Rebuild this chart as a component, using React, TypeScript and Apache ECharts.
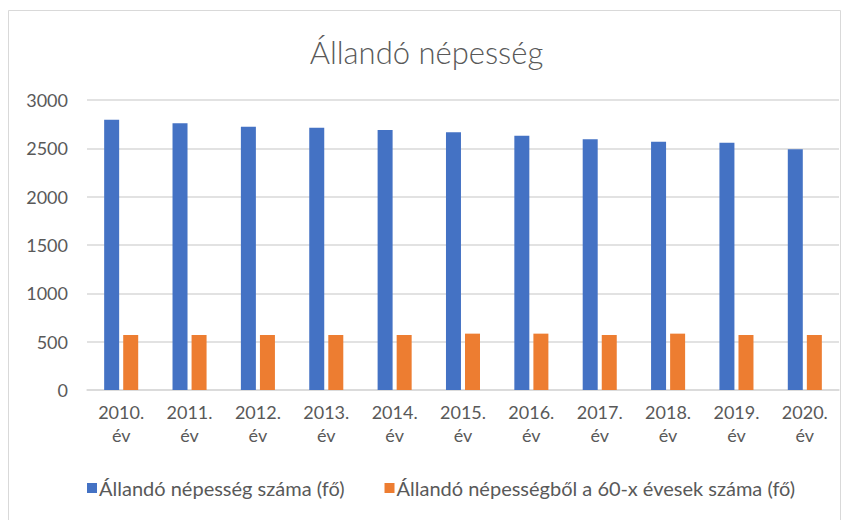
import React, { useEffect, useRef } from "react";
import * as echarts from "echarts";

const categories = ["2010.\név", "2011.\név", "2012.\név", "2013.\név", "2014.\név", "2015.\név", "2016.\név", "2017.\név", "2018.\név", "2019.\név", "2020.\név"];
const totalPop = [2796, 2760, 2724, 2714, 2690, 2666, 2631, 2593, 2569, 2559, 2490];
const pop60 = [569, 569, 569, 569, 569, 583, 583, 569, 583, 569, 569];
const seriesNames = ["Állandó népesség száma (fő)", "Állandó népességből a 60-x évesek száma (fő)"];
const titleText = "Állandó népesség";

export default function App() {
  const ref = useRef<HTMLDivElement>(null);
  useEffect(() => {
    if (!ref.current) return;
    const chart = echarts.init(ref.current, null, { renderer: "svg" });
    const font = "Lato, 'Open Sans', sans-serif";
    chart.setOption({
      animation: false,
      backgroundColor: "#ffffff",
      textStyle: { fontFamily: font },
      title: {
        text: titleText,
        left: "center",
        top: 31,
        textStyle: { fontFamily: font, fontSize: 31, fontWeight: 300, color: "#595959" },
      },
      graphic: [
        {
          type: "rect",
          shape: { x: 8.5, y: 10.5, width: 832, height: 515 },
          style: { fill: "none", stroke: "#d9d9d9", lineWidth: 1 },
          silent: true,
        },
      ],
      legend: {
        bottom: 17,
        left: 82,
        itemWidth: 10,
        itemHeight: 10,
        itemGap: 40,
        icon: "rect",
        textStyle: { fontFamily: font, fontSize: 20, color: "#595959", padding: [0, 0, 0, -3] },
        data: seriesNames,
      },
      grid: { left: 87, right: 14, top: 100, bottom: 130 },
      xAxis: {
        type: "category",
        data: categories,
        axisLine: { show: true, lineStyle: { color: "#d9d9d9", width: 1.5 } },
        axisTick: { show: false },
        axisLabel: { fontFamily: font, fontSize: 18, color: "#595959", margin: 10, lineHeight: 23, interval: 0 },
      },
      yAxis: {
        type: "value",
        min: 0,
        max: 3000,
        interval: 500,
        axisLine: { show: false },
        axisTick: { show: false },
        splitLine: { lineStyle: { color: "#d9d9d9", width: 1.5 } },
        axisLabel: { fontFamily: font, fontSize: 18, color: "#595959", margin: 19, formatter: (v: number) => String(v) },
      },
      series: [
        {
          name: seriesNames[0],
          type: "bar",
          data: totalPop,
          barWidth: 15,
          barGap: "27%",
          itemStyle: { color: "#4472c4" },
        },
        {
          name: seriesNames[1],
          type: "bar",
          data: pop60,
          barWidth: 15,
          itemStyle: { color: "#ed7d31" },
        },
      ],
    });
    return () => chart.dispose();
  }, []);
  return <div ref={ref} style={{ position: "fixed", left: 0, top: 0, width: 853, height: 520 }} />;
}
